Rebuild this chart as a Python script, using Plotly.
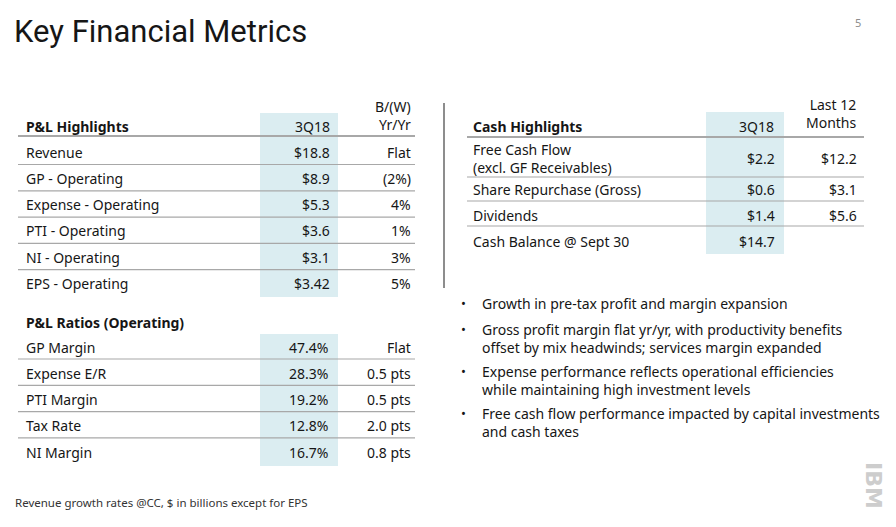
import plotly.graph_objects as go

# Slide data
title = "Key Financial Metrics"
page_no = "5"

pl_header = ["P&L Highlights", "3Q18", "B/(W)<br>Yr/Yr"]
pl_labels = ["Revenue", "GP - Operating", "Expense - Operating", "PTI - Operating",
             "NI - Operating", "EPS - Operating"]
pl_3q18 = ["$18.8", "$8.9", "$5.3", "$3.6", "$3.1", "$3.42"]
pl_yr = ["Flat", "(2%)", "4%", "1%", "3%", "5%"]

ratio_header = "P&L Ratios (Operating)"
ratio_labels = ["GP Margin", "Expense E/R", "PTI Margin", "Tax Rate", "NI Margin"]
ratio_3q18 = ["47.4%", "28.3%", "19.2%", "12.8%", "16.7%"]
ratio_yr = ["Flat", "0.5 pts", "0.5 pts", "2.0 pts", "0.8 pts"]

cash_header = ["Cash Highlights", "3Q18", "Last 12<br>Months"]
cash_labels = ["Free Cash Flow<br>(excl. GF Receivables)", "Share Repurchase (Gross)",
               "Dividends", "Cash Balance @ Sept 30"]
cash_3q18 = ["$2.2", "$0.6", "$1.4", "$14.7"]
cash_ltm = ["$12.2", "$3.1", "$5.6", ""]

bullets = [
    "Growth in pre-tax profit and margin expansion",
    "Gross profit margin flat yr/yr, with productivity benefits<br>offset by mix headwinds; services margin expanded",
    "Expense performance reflects operational efficiencies<br>while maintaining high investment levels",
    "Free cash flow performance impacted by capital investments<br>and cash taxes",
]

footnote = "Revenue growth rates @CC, $ in billions except for EPS"

FONT = "Noto Sans"
TXT = "#161616"
LINE = "#a8a8a8"
HILITE = "#dbedf1"
FS = 14

fig = go.Figure()
fig.add_trace(go.Scatter(x=[0, 896], y=[0, 527], mode="markers",
                         marker=dict(opacity=0), hoverinfo="skip", showlegend=False))

ann = []
shapes = []


def txt(x, y, s, anchor="left", size=FS, bold=False, color=TXT, family=FONT, yanchor="middle"):
    ann.append(dict(x=x, y=y, text=f"<b>{s}</b>" if bold else s, showarrow=False,
                    xanchor=anchor, yanchor=yanchor, align=anchor if anchor != "center" else "center",
                    borderpad=0, font=dict(size=size, color=color, family=family)))


def hline(y, x0, x1, w=1.2):
    shapes.append(dict(type="line", x0=x0, x1=x1, y0=y, y1=y,
                       line=dict(color=LINE, width=w)))


# title and page number
txt(13, 31, title, size=31, family="Liberation Sans Narrow, Roboto")
txt(862, 22, page_no, anchor="right", size=11, color="#8d8d8d")

# ---- P&L Highlights ----
shapes.append(dict(type="rect", x0=260, x1=338, y0=113, y1=297, line_width=0,
                   fillcolor=HILITE, layer="below"))
txt(25, 126, pl_header[0], bold=True)
txt(331, 126, pl_header[1], anchor="right")
txt(412, 115, pl_header[2], anchor="right")
hline(136, 18, 415, 2)
row_h = 26.3
for i, (lab, v, yr) in enumerate(zip(pl_labels, pl_3q18, pl_yr)):
    y = 152 + i * row_h
    txt(25, y, lab)
    txt(331, y, v, anchor="right")
    txt(412, y, yr, anchor="right")
    if i < len(pl_labels) - 1:
        hline(y + 12.5, 18, 415)

# ---- P&L Ratios ----
shapes.append(dict(type="rect", x0=260, x1=338, y0=334, y1=466, line_width=0,
                   fillcolor=HILITE, layer="below"))
txt(25, 322, ratio_header, bold=True)
for i, (lab, v, yr) in enumerate(zip(ratio_labels, ratio_3q18, ratio_yr)):
    y = 347 + i * row_h
    txt(25, y, lab)
    txt(329, y, v, anchor="right")
    txt(412, y, yr, anchor="right")
    if i < len(ratio_labels) - 1:
        hline(y + 12.0, 18, 415)

txt(14, 502, footnote, size=11.5, color="#333333")

# vertical separator
shapes.append(dict(type="line", x0=444, x1=444, y0=103, y1=288,
                   line=dict(color="#8d8d8d", width=2)))

# ---- Cash Highlights ----
shapes.append(dict(type="rect", x0=706, x1=784, y0=112, y1=254, line_width=0,
                   fillcolor=HILITE, layer="below"))
txt(472, 126, cash_header[0], bold=True)
txt(775, 126, cash_header[1], anchor="right")
txt(858, 113, cash_header[2], anchor="right")
hline(137, 467, 864, 2)
cash_y = [158, 189, 215, 241]
cash_lines = [177, 201, 226]
for i, (lab, v, ltm) in enumerate(zip(cash_labels, cash_3q18, cash_ltm)):
    txt(472, cash_y[i], lab)
    txt(776, cash_y[i], v, anchor="right")
    txt(858, cash_y[i], ltm, anchor="right")
for y in cash_lines:
    hline(y, 467, 864)

# ---- bullets ----
bullet_y = [303, 338, 380, 422]
for y, b in zip(bullet_y, bullets):
    txt(460, y if "<br>" not in b else y - 9, "•", size=13)
    txt(481, y, b, size=FS)

# IBM logo (faint, rotated)
ann.append(dict(x=874, y=485, text="<b>IBM</b>", showarrow=False, textangle=90,
                font=dict(size=22, color="#cdcdcd", family="DejaVu Sans")))

fig.update_layout(
    width=896, height=527,
    margin=dict(l=0, r=0, t=0, b=0),
    paper_bgcolor="white", plot_bgcolor="white",
    xaxis=dict(range=[0, 896], visible=False, fixedrange=True),
    yaxis=dict(range=[527, 0], visible=False, fixedrange=True),
    annotations=ann, shapes=shapes, showlegend=False,
)

fig.write_html("out.html", config={"displayModeBar": False},
               post_script="document.body.style.margin='0';")
